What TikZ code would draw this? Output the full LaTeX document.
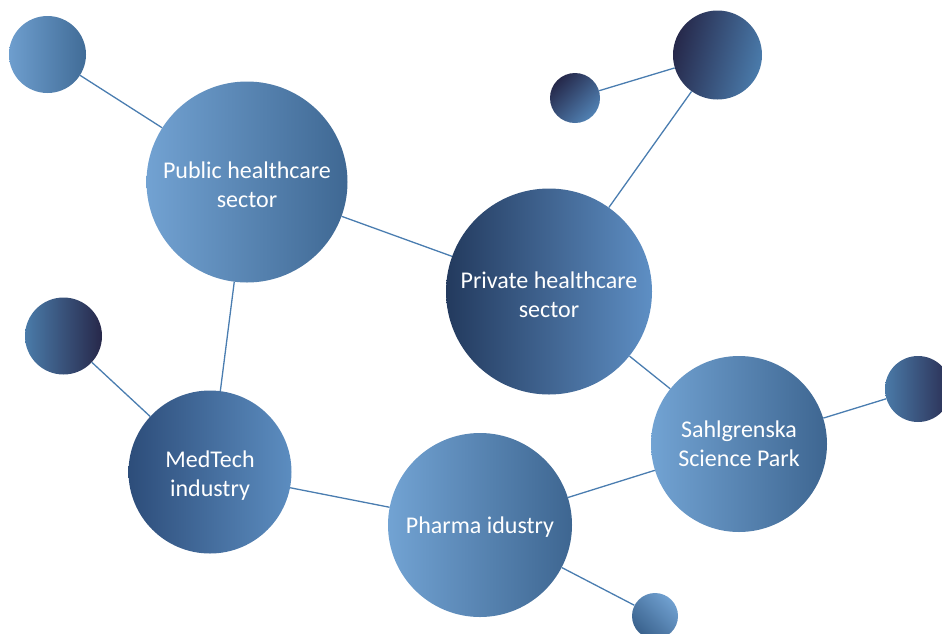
\documentclass[tikz,border=0pt]{standalone}
\usepackage{fontspec}
\setmainfont{Carlito}
\definecolor{linkc}{HTML}{4A7DB0}
\begin{document}
\begin{tikzpicture}[x=1pt,y=-1pt,
  bub/.style={circle, inner sep=0pt, draw=none},
  txt/.style={text=white, align=center, font=\fontsize{24}{29}\selectfont},
  link/.style={draw=linkc, line width=1.3pt}]
\useasboundingbox (0,0) rectangle (942,633);
\clip (0,0) rectangle (942,633);
% nodes
\node[bub, minimum size=77pt, left color={rgb,255:red,110;green,158;blue,206}, right color={rgb,255:red,65;green,108;blue,151}] (tl) at (47.5,54.5) {};
\node[bub, minimum size=201pt, left color={rgb,255:red,114;green,162;blue,210}, right color={rgb,255:red,63;green,104;blue,147},
  label={[txt, yshift=-3pt]center:Public healthcare\\sector}] (pub) at (247,182) {};
\node[bub, minimum size=50pt, top color={rgb,255:red,37;green,40;blue,74}, bottom color={rgb,255:red,81;green,130;blue,180}, shading angle=45] (stl) at (575,98) {};
\node[bub, minimum size=89pt, top color={rgb,255:red,38;green,40;blue,74}, bottom color={rgb,255:red,74;green,123;blue,171}, shading angle=75] (tr) at (717.5,55) {};
\node[bub, minimum size=206pt, left color={rgb,255:red,35;green,58;blue,94}, right color={rgb,255:red,94;green,143;blue,196},
  label={[txt, yshift=-3pt]center:Private healthcare\\sector}] (priv) at (549,291.5) {};
\node[bub, minimum size=77pt, left color={rgb,255:red,74;green,123;blue,169}, right color={rgb,255:red,39;green,40;blue,74}] (ls) at (63.5,336) {};
\node[bub, minimum size=163pt, left color={rgb,255:red,45;green,77;blue,122}, right color={rgb,255:red,92;green,141;blue,192},
  label={[txt, yshift=-3.5pt]center:MedTech\\industry}] (med) at (210,472) {};
\node[bub, minimum size=184pt, left color={rgb,255:red,114;green,163;blue,211}, right color={rgb,255:red,62;green,102;blue,145},
  label={[txt, yshift=-2pt]center:Pharma idustry}] (pha) at (480,525) {};
\node[bub, minimum size=176pt, left color={rgb,255:red,114;green,163;blue,211}, right color={rgb,255:red,62;green,102;blue,145},
  label={[txt]center:Sahlgrenska\\Science Park}] (sah) at (739,444) {};
\node[bub, minimum size=66pt, left color={rgb,255:red,74;green,122;blue,168}, right color={rgb,255:red,42;green,45;blue,82}] (rs) at (918,389) {};
\node[bub, minimum size=46pt, top color={rgb,255:red,112;green,160;blue,208}, bottom color={rgb,255:red,58;green,98;blue,141}, shading angle=-45] (bs) at (655,616) {};
% connectors
\draw[link] (tl) -- (pub);
\draw[link] (pub) -- (priv);
\draw[link] (pub) -- (med);
\draw[link] (priv) -- (tr);
\draw[link] (tr) -- (stl);
\draw[link] (priv) -- (sah);
\draw[link] (ls) -- (med);
\draw[link] (med) -- (pha);
\draw[link] (pha) -- (sah);
\draw[link] (sah) -- (rs);
\draw[link] (pha) -- (bs);
\end{tikzpicture}
\end{document}
